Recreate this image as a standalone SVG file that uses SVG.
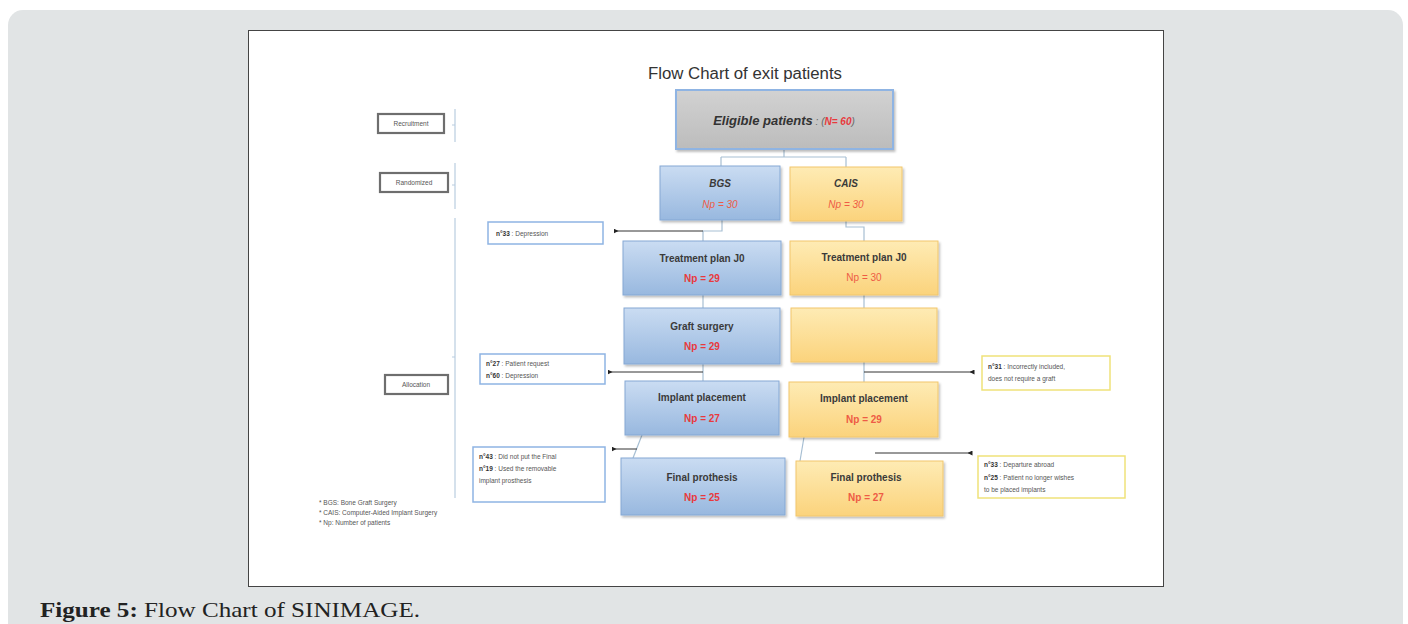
<svg xmlns="http://www.w3.org/2000/svg" width="1408" height="624" viewBox="0 0 1408 624">
<defs>
<linearGradient id="gBlue" x1="0" y1="0" x2="0" y2="1"><stop offset="0" stop-color="#cadcf2"/><stop offset="1" stop-color="#98b8df"/></linearGradient>
<linearGradient id="gOrange" x1="0" y1="0" x2="0" y2="1"><stop offset="0" stop-color="#feebb4"/><stop offset="1" stop-color="#fbd37c"/></linearGradient>
<linearGradient id="gGray" x1="0" y1="0" x2="0" y2="1"><stop offset="0" stop-color="#d2d2d2"/><stop offset="1" stop-color="#bcbcbc"/></linearGradient>
<filter id="sh" x="-10%" y="-10%" width="125%" height="135%"><feDropShadow dx="1.5" dy="2" stdDeviation="1.2" flood-color="#000" flood-opacity="0.25"/></filter>
<marker id="dot" viewBox="0 0 6 6" refX="3" refY="3" markerWidth="5" markerHeight="5" orient="auto"><path d="M6,0 L0,3 L6,6 Z" fill="#222"/></marker>
<style>
.blue{fill:url(#gBlue);stroke:#85a8d4;stroke-width:1;filter:url(#sh)}
.orange{fill:url(#gOrange);stroke:#f1c66c;stroke-width:1;filter:url(#sh)}
.t{font-family:"Liberation Sans",Arial,sans-serif;font-weight:bold;font-size:10px;fill:#3a3a3a;text-anchor:middle}
.np{font-family:"Liberation Sans",Arial,sans-serif;font-weight:bold;font-size:10px;fill:#e8393c;text-anchor:middle}
.npo{font-family:"Liberation Sans",Arial,sans-serif;font-size:10px;fill:#ee5b45;text-anchor:middle}
.s{font-family:"Liberation Sans",Arial,sans-serif;font-size:6.5px;fill:#555}
.sb{font-weight:bold;fill:#333}
.note{fill:#fff;stroke-width:1.5}
.conn{fill:none;stroke:#a7bfd3;stroke-width:1.2}
.arr{fill:none;stroke:#333;stroke-width:1;marker-end:url(#dot)}
.lab{fill:#fff;stroke:#6e6e6e;stroke-width:2.2}
.br{fill:none;stroke:#b9cde0;stroke-width:1.2}
</style>
</defs>
<rect x="0" y="0" width="1408" height="624" fill="#ffffff"/>
<rect x="8" y="10" width="1395" height="640" rx="15" fill="#e1e4e5"/>
<rect x="248.5" y="30.5" width="915" height="556" fill="#ffffff" stroke="#444" stroke-width="1"/>
<text x="40" y="617" font-family="'Liberation Serif','Times New Roman',serif" font-size="21" fill="#222" textLength="380" lengthAdjust="spacingAndGlyphs"><tspan font-weight="bold">Figure 5:</tspan> Flow Chart of SINIMAGE.</text>

<text x="745" y="79" font-family="'Liberation Sans',Arial,sans-serif" font-size="16" fill="#333" text-anchor="middle" textLength="194" lengthAdjust="spacingAndGlyphs">Flow Chart of exit patients</text>

<g id="phases">
<g id="recruitment"><rect class="lab" x="378" y="114" width="66" height="19"/><text class="s" x="411" y="126" text-anchor="middle">Recruitment</text></g>
<g id="randomized"><rect class="lab" x="380" y="173" width="68" height="19"/><text class="s" x="414" y="185" text-anchor="middle">Randomized</text></g>
<g id="allocation"><rect class="lab" x="385" y="375" width="63" height="19"/><text class="s" x="416" y="387" text-anchor="middle">Allocation</text></g>
<path class="br" d="M455,109 V142 M455,163 V209 M455,218 V498 M455,125 h-3 M455,185 h-3 M455,357 h-3"/>
</g>

<g id="connectors">
<path class="conn" d="M784,149 V157 M721,157 H846 M721,157 V166 M846,157 V167"/>
<path class="conn" d="M722,220 V231 H703 V241"/>
<path class="conn" d="M846,221 V227 H864 V241"/>
<path class="conn" d="M703,295 V308"/>
<path class="conn" d="M864,295 V308"/>
<path class="conn" d="M703,364 V381"/>
<path class="conn" d="M864,362 V382"/>
<path class="conn" d="M642,435 L633,458"/>
<path class="conn" d="M804,437 L800,461"/>
<path class="arr" d="M703,231 H616"/>
<path class="arr" d="M703,372 H610"/>
<path class="arr" d="M637,449 H614"/>
<path class="arr" d="M864,372 H972"/>
<path class="arr" d="M875,453 H970"/>
</g>

<g id="eligible">
<rect x="676" y="90" width="217" height="59" fill="url(#gGray)" stroke="#8fb4e3" stroke-width="2" filter="url(#sh)"/>
<text x="784" y="125" font-family="'Liberation Sans',Arial,sans-serif" font-size="13" font-style="italic" font-weight="bold" text-anchor="middle" fill="#333"><tspan>Eligible patients</tspan><tspan font-weight="normal" font-size="10" fill="#666"> : (</tspan><tspan font-size="10" fill="#e8393c">N= 60</tspan><tspan font-size="10" font-weight="normal" fill="#666">)</tspan></text>
</g>

<g id="bgs"><rect class="blue" x="660" y="166" width="120" height="54"/><text class="t" x="720" y="187" font-style="italic">BGS</text><text class="npo" x="720" y="208" font-style="italic" fill="#e86a6a">Np = 30</text></g>
<g id="cais"><rect class="orange" x="790" y="167" width="112" height="54"/><text class="t" x="846" y="187" font-style="italic">CAIS</text><text class="npo" x="846" y="208" font-style="italic">Np = 30</text></g>

<g id="bgs-plan"><rect class="blue" x="623" y="241" width="158" height="54"/><text class="t" x="702" y="262">Treatment plan J0</text><text class="np" x="702" y="282">Np = 29</text></g>
<g id="cais-plan"><rect class="orange" x="790" y="241" width="148" height="54"/><text class="t" x="864" y="261">Treatment plan J0</text><text class="npo" x="864" y="281">Np = 30</text></g>

<g id="bgs-graft"><rect class="blue" x="624" y="308" width="156" height="56"/><text class="t" x="702" y="330">Graft surgery</text><text class="np" x="702" y="350">Np = 29</text></g>
<g id="cais-empty"><rect class="orange" x="791" y="308" width="146" height="54"/></g>

<g id="bgs-implant"><rect class="blue" x="625" y="381" width="154" height="54"/><text class="t" x="702" y="401">Implant placement</text><text class="np" x="702" y="422">Np = 27</text></g>
<g id="cais-implant"><rect class="orange" x="789" y="382" width="149" height="55"/><text class="t" x="864" y="402">Implant placement</text><text class="npo" x="864" y="423" font-weight="bold">Np = 29</text></g>

<g id="bgs-final"><rect class="blue" x="621" y="458" width="164" height="57"/><text class="t" x="702" y="481">Final prothesis</text><text class="np" x="702" y="501">Np = 25</text></g>
<g id="cais-final"><rect class="orange" x="796" y="461" width="147" height="55"/><text class="t" x="866" y="481">Final prothesis</text><text class="npo" x="866" y="501" font-weight="bold">Np = 27</text></g>

<g id="note-33a"><rect class="note" x="488" y="222" width="115" height="22" stroke="#8eb4e3"/><text class="s" x="496" y="236"><tspan class="sb">n°33</tspan> : Depression</text></g>
<g id="note-27"><rect class="note" x="480" y="354" width="125" height="30" stroke="#8eb4e3"/><text class="s" x="486" y="366"><tspan class="sb">n°27</tspan> : Patient request</text><text class="s" x="486" y="378"><tspan class="sb">n°60</tspan> : Depression</text></g>
<g id="note-43"><rect class="note" x="473" y="447" width="132" height="55" stroke="#8eb4e3"/><text class="s" x="479" y="459"><tspan class="sb">n°43</tspan> : Did not put the Final</text><text class="s" x="479" y="471"><tspan class="sb">n°19</tspan> : Used the removable</text><text class="s" x="479" y="483">implant prosthesis</text></g>
<g id="note-31"><rect class="note" x="982" y="356" width="128" height="34" stroke="#efe27a"/><text class="s" x="988" y="369"><tspan class="sb">n°31</tspan> : Incorrectly included,</text><text class="s" x="988" y="381">does not require a graft</text></g>
<g id="note-33b"><rect class="note" x="978" y="456" width="147" height="42" stroke="#efe27a"/><text class="s" x="984" y="467"><tspan class="sb">n°33</tspan> : Departure abroad</text><text class="s" x="984" y="480"><tspan class="sb">n°25</tspan> : Patient no longer wishes</text><text class="s" x="984" y="492">to be placed implants</text></g>

<g id="footnotes">
<text class="s" x="319" y="505" font-size="6">* BGS: Bone Graft Surgery</text>
<text class="s" x="319" y="515" font-size="6">* CAIS: Computer-Aided Implant Surgery</text>
<text class="s" x="319" y="525" font-size="6">* Np: Number of patients</text>
</g>
</svg>
